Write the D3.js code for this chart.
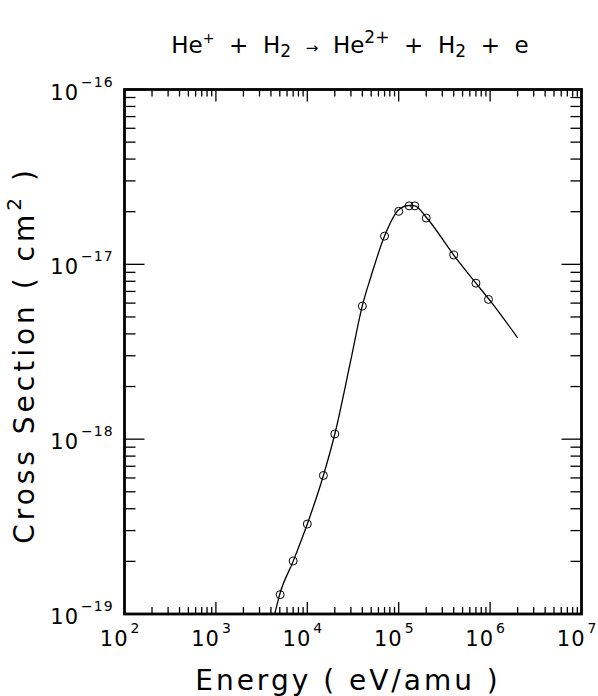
<!DOCTYPE html>
<html><head><meta charset="utf-8">
<script src="https://cdn.jsdelivr.net/npm/d3@7"></script>
<style>body{margin:0;background:#fff}svg{display:block}text{font-family:"DejaVu Sans",sans-serif;fill:#000}</style>
</head><body><svg id="c" width="598" height="696"></svg>
<script>
// measured data points (Energy eV/amu, cross section cm^2)
const pointEnergy = [5.05e3, 7.0e3, 1.0e4, 1.5e4, 2.0e4, 4.0e4, 7.0e4, 1.0e5, 1.3e5, 1.5e5, 2.0e5, 4.0e5, 7.0e5, 9.6e5];
const pointSigma  = [1.29e-19, 2.01e-19, 3.27e-19, 6.2e-19, 1.07e-18, 5.77e-18, 1.45e-17, 2.01e-17, 2.16e-17, 2.16e-17, 1.84e-17, 1.13e-17, 7.8e-18, 6.3e-18];
// fitted curve
const curveEnergy = [4.4e3, 5.0e3, 7.0e3, 1.0e4, 1.5e4, 2.0e4, 3.0e4, 4.0e4, 5.0e4, 7.0e4, 1.0e5, 1.3e5, 1.5e5, 2.0e5, 4.0e5, 7.0e5, 1.0e6, 2.0e6];
const curveSigma  = [1.0e-19, 1.3e-19, 2.0e-19, 3.27e-19, 6.2e-19, 1.07e-18, 2.85e-18, 5.8e-18, 8.6e-18, 1.45e-17, 2.05e-17, 2.17e-17, 2.16e-17, 1.86e-17, 1.13e-17, 7.8e-18, 6.2e-18, 3.8e-18];
const xTickExp = [2, 3, 4, 5, 6, 7];
const yTickExp = [-16, -17, -18, -19];

const svg = d3.select("#c");
const L = 124.5, R = 581.5, T = 89.5, B = 614;
const x = d3.scaleLog().domain([1e2, 1e7]).range([L, R]);
const y = d3.scaleLog().domain([1e-19, 1e-16]).range([B, T]);

// ticks
const g = svg.append("g").attr("stroke", "#000").attr("stroke-width", 1.3);
const xt = [];
for (let e = 2; e < 7; e++) for (let m = 1; m <= 9; m++) xt.push({v: m * Math.pow(10, e), major: m === 1});
xt.push({v: 1e7, major: true});
xt.forEach(t => {
  const px = x(t.v), len = t.major ? 12 : 7;
  g.append("line").attr("x1", px).attr("x2", px).attr("y1", B).attr("y2", B - len);
  g.append("line").attr("x1", px).attr("x2", px).attr("y1", T).attr("y2", T + len);
});
const yt = [];
for (let e = -19; e < -16; e++) for (let m = 1; m <= 9; m++) yt.push({v: m * Math.pow(10, e), major: m === 1});
yt.push({v: 1e-16, major: true});
yt.forEach(t => {
  const py = y(t.v), len = t.major ? 20 : 11;
  g.append("line").attr("y1", py).attr("y2", py).attr("x1", L).attr("x2", L + len);
  g.append("line").attr("y1", py).attr("y2", py).attr("x1", R).attr("x2", R - len);
});
// frame
svg.append("rect").attr("x", L).attr("y", T).attr("width", R - L).attr("height", B - T)
  .attr("fill", "none").attr("stroke", "#000").attr("stroke-width", 2.8);

// x tick labels
xTickExp.forEach(e => {
  const px = x(Math.pow(10, e));
  svg.append("text").attr("x", px + 4).attr("y", 646).attr("text-anchor", "end")
    .attr("font-size", 21).attr("letter-spacing", 1).text("10");
  svg.append("text").attr("x", px + 6).attr("y", 633).attr("text-anchor", "start")
    .attr("font-size", 14).text(String(e));
});
// y tick labels
yTickExp.forEach(e => {
  const py = y(Math.pow(10, e));
  svg.append("text").attr("x", 79).attr("y", py + 10).attr("text-anchor", "end")
    .attr("font-size", 21).attr("letter-spacing", 1).text("10");
  svg.append("text").attr("x", 81).attr("y", py - 3).attr("text-anchor", "start")
    .attr("font-size", 14).attr("letter-spacing", 1).text(String(e).replace("-", "\u2212"));
});

// curve
const line = d3.line().x((d, i) => x(curveEnergy[i])).y((d, i) => y(curveSigma[i])).curve(d3.curveMonotoneX);
svg.append("path").datum(curveEnergy).attr("d", line).attr("fill", "none").attr("stroke", "#000").attr("stroke-width", 1.3);
// points
svg.append("g").selectAll("circle").data(pointEnergy).join("circle")
  .attr("cx", (d) => x(d)).attr("cy", (d, i) => y(pointSigma[i])).attr("r", 4)
  .attr("fill", "none").attr("stroke", "#000").attr("stroke-width", 1);

// axis titles
svg.append("text").attr("x", 348).attr("y", 690).attr("text-anchor", "middle")
  .attr("font-size", 28).attr("letter-spacing", 3).style("white-space", "pre").text("Energy ( eV/amu )");
svg.append("text").attr("transform", "translate(34,355) rotate(-90)").attr("text-anchor", "middle")
  .attr("font-size", 28).attr("letter-spacing", 4).style("white-space", "pre")
  .call(t => { t.append("tspan").text("Cross Section ( cm"); t.append("tspan").attr("dy", -13).attr("font-size", 20).text("2"); t.append("tspan").attr("dy", 13).text(" )"); });

// title
const title = svg.append("text").attr("x", 350).attr("y", 53).attr("text-anchor", "middle")
  .attr("font-size", 23).style("white-space", "pre");
title.append("tspan").text("He");
title.append("tspan").attr("dy", -10).attr("font-size", 14).text("+");
title.append("tspan").attr("dy", 10).text("  +  H");
title.append("tspan").attr("dy", 4).attr("font-size", 17).text("2");
title.append("tspan").attr("dy", -4).text("  ");
title.append("tspan").attr("font-size", 15).text("\u2192");
title.append("tspan").text("  He");
title.append("tspan").attr("dy", -10).attr("font-size", 17).text("2+");
title.append("tspan").attr("dy", 10).text("  +  H");
title.append("tspan").attr("dy", 4).attr("font-size", 17).text("2");
title.append("tspan").attr("dy", -4).text("  +  e");
</script></body></html>
